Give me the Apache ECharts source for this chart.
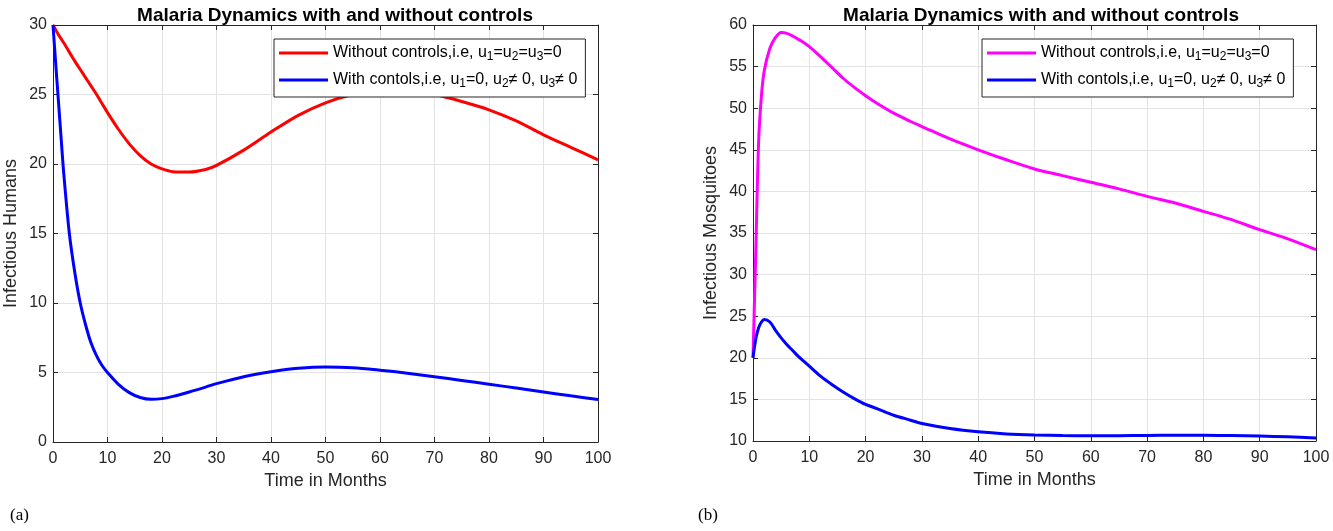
<!DOCTYPE html>
<html lang="en">
<head>
    <meta charset="UTF-8">
    <title>Malaria Dynamics with and without controls</title>
    <script src="https://cdn.jsdelivr.net/npm/echarts@6.0.0/dist/echarts.min.js"></script>
    <style>
        html, body { margin: 0; padding: 0; background: #fff; }
        #chart { width: 1333px; height: 531px; }
    </style>
</head>
<body>
<div id="chart"></div>
<script>
    // time points (months) shared by all four curves
    var months = [0, 0.5, 1, 1.5, 2, 3, 4, 5, 6, 7, 8, 9, 10, 12, 14, 16, 18, 20, 22, 25, 28, 30,
        35, 40, 45, 50, 55, 60, 65, 70, 75, 80, 85, 90, 95, 100];

    // (a) infectious humans
    var humansNoControl = [30, 29.65, 29.3, 29.0, 28.7, 28.05, 27.4, 26.8, 26.2, 25.6, 25.0, 24.35, 23.7,
        22.5, 21.45, 20.6, 20.0, 19.65, 19.45, 19.42, 19.6, 19.9, 21.0, 22.3, 23.5, 24.4, 25.0, 25.3,
        25.3, 25.0, 24.5, 23.9, 23.1, 22.1, 21.2, 20.3];
    var humansControl = [30, 27.2, 24.5, 21.8, 19.2, 15.0, 12.2, 10.0, 8.4, 7.1, 6.2, 5.5, 5.0,
        4.15, 3.55, 3.2, 3.07, 3.12, 3.28, 3.6, 3.95, 4.2, 4.7, 5.05, 5.3, 5.4, 5.35, 5.17,
        4.95, 4.7, 4.43, 4.16, 3.88, 3.6, 3.32, 3.05];

    // (b) infectious mosquitoes
    var mosqNoControl = [20, 33, 46, 51.5, 54.5, 57.2, 58.5, 59.1, 59.0, 58.7, 58.3, 57.9, 57.4,
        56.2, 54.9, 53.6, 52.5, 51.5, 50.6, 49.4, 48.4, 47.8, 46.3, 45.0, 43.8, 42.7, 41.9, 41.1,
        40.3, 39.4, 38.6, 37.6, 36.6, 35.4, 34.3, 33.0];
    var mosqControl = [20, 22.3, 23.6, 24.3, 24.6, 24.3, 23.3, 22.4, 21.6, 20.9, 20.2, 19.6, 19.0,
        17.8, 16.8, 15.9, 15.1, 14.4, 13.9, 13.1, 12.5, 12.1, 11.5, 11.1, 10.85, 10.72, 10.66, 10.63,
        10.64, 10.67, 10.7, 10.7, 10.66, 10.6, 10.5, 10.35];

    var titleText = 'Malaria Dynamics with and without controls';
    var legendText = {
        noCtrlH: 'Without controls,i.e, u{s|1}=u{s|2}=u{s|3}=0',
        ctrlH: 'With contols,i.e, u{s|1}=0, u{s|2}≠ 0, u{s|3}≠ 0',
        noCtrlM: 'Without controls,i.e, u{s|1}=u{s|2}=u{s|3}=0',
        ctrlM: 'With contols,i.e, u{s|1}=0, u{s|2}≠ 0, u{s|3}≠ 0'
    };

    var FONT = 'Liberation Sans, Arial, Helvetica, sans-serif';
    var AXIS_COLOR = '#262626';

    function pairs(ys) {
        return months.map(function (t, i) { return [t, ys[i]]; });
    }

    function mainX(grid) {
        return {
            type: 'value', gridIndex: grid, min: 0, max: 100, interval: 10,
            name: 'Time in Months', nameLocation: 'middle', nameGap: 22,
            nameTextStyle: { fontFamily: FONT, fontSize: 18, color: AXIS_COLOR },
            axisLine: { show: true, onZero: false, lineStyle: { color: AXIS_COLOR, width: 1 } },
            axisTick: { show: true, inside: true, length: 5, lineStyle: { color: AXIS_COLOR } },
            axisLabel: { fontFamily: FONT, fontSize: 16, color: AXIS_COLOR, margin: 9 },
            splitLine: { show: true, lineStyle: { color: '#e3e3e3', width: 1 } }
        };
    }

    function mainY(grid, name, min, max) {
        return {
            type: 'value', gridIndex: grid, min: min, max: max, interval: 5,
            name: name, nameLocation: 'middle', nameGap: 33,
            nameTextStyle: { fontFamily: FONT, fontSize: 18, color: AXIS_COLOR },
            axisLine: { show: true, onZero: false, lineStyle: { color: AXIS_COLOR, width: 1 } },
            axisTick: { show: true, inside: true, length: 5, lineStyle: { color: AXIS_COLOR } },
            axisLabel: { fontFamily: FONT, fontSize: 16, color: AXIS_COLOR, margin: 6 },
            splitLine: { show: true, lineStyle: { color: '#e3e3e3', width: 1 } }
        };
    }

    // mirror axes for the box outline with inside ticks (top / right)
    function boxAxis(grid, pos, min, max, interval) {
        return {
            type: 'value', gridIndex: grid, position: pos, min: min, max: max, interval: interval,
            axisLine: { show: true, onZero: false, lineStyle: { color: AXIS_COLOR, width: 1 } },
            axisTick: { show: true, inside: true, length: 5, lineStyle: { color: AXIS_COLOR } },
            axisLabel: { show: false },
            splitLine: { show: false }
        };
    }

    function legend(left, names) {
        return {
            left: left, top: 39, orient: 'vertical',
            data: names,
            icon: 'rect', itemWidth: 49, itemHeight: 3, itemGap: 7,
            padding: [4, 8, 7, 5],
            borderColor: AXIS_COLOR, borderWidth: 1, borderRadius: 0,
            backgroundColor: '#fff',
            selectedMode: false,
            formatter: function (n) { return legendText[n]; },
            textStyle: {
                fontFamily: FONT, fontSize: 16, color: '#000', lineHeight: 20,
                rich: {
                    s: { fontFamily: FONT, fontSize: 12, lineHeight: 12, verticalAlign: 'bottom', color: '#000' }
                }
            }
        };
    }

    function line(name, xi, yi, ys, color) {
        return {
            name: name, type: 'line', xAxisIndex: xi, yAxisIndex: yi,
            data: pairs(ys), showSymbol: false, symbol: 'none',
            smooth: 0.3,
            lineStyle: { color: color, width: 3 }, itemStyle: { color: color },
            animation: false
        };
    }

    var chart = echarts.init(document.getElementById('chart'));
    var option = {
        backgroundColor: '#fff',
        animation: false,
        title: [
            { text: titleText, left: 330, top: 1, textAlign: 'center',
              textStyle: { fontFamily: FONT, fontSize: 19, fontWeight: 'bold', color: '#000' } },
            { text: titleText, left: 1036, top: 1, textAlign: 'center',
              textStyle: { fontFamily: FONT, fontSize: 19, fontWeight: 'bold', color: '#000' } }
        ],
        grid: [
            { left: 53, top: 25, width: 545, height: 417 },
            { left: 753, top: 25, width: 563, height: 416 }
        ],
        xAxis: [mainX(0), mainX(1), boxAxis(0, 'top', 0, 100, 10), boxAxis(1, 'top', 0, 100, 10)],
        yAxis: [
            mainY(0, 'Infectious Humans', 0, 30),
            mainY(1, 'Infectious Mosquitoes', 10, 60),
            boxAxis(0, 'right', 0, 30, 5),
            boxAxis(1, 'right', 10, 60, 5)
        ],
        legend: [legend(274, ['noCtrlH', 'ctrlH']), legend(982, ['noCtrlM', 'ctrlM'])],
        series: [
            line('noCtrlH', 0, 0, humansNoControl, '#ff0000'),
            line('ctrlH', 0, 0, humansControl, '#0000ff'),
            line('noCtrlM', 1, 1, mosqNoControl, '#ff00ff'),
            line('ctrlM', 1, 1, mosqControl, '#0000ff')
        ],
        graphic: [
            { type: 'text', left: 10, top: 507,
              style: { text: '(a)', font: '17px "Liberation Serif", "Times New Roman", serif', fill: '#000' } },
            { type: 'text', left: 698, top: 507,
              style: { text: '(b)', font: '17px "Liberation Serif", "Times New Roman", serif', fill: '#000' } }
        ]
    };
    chart.setOption(option);
</script>
</body>
</html>
